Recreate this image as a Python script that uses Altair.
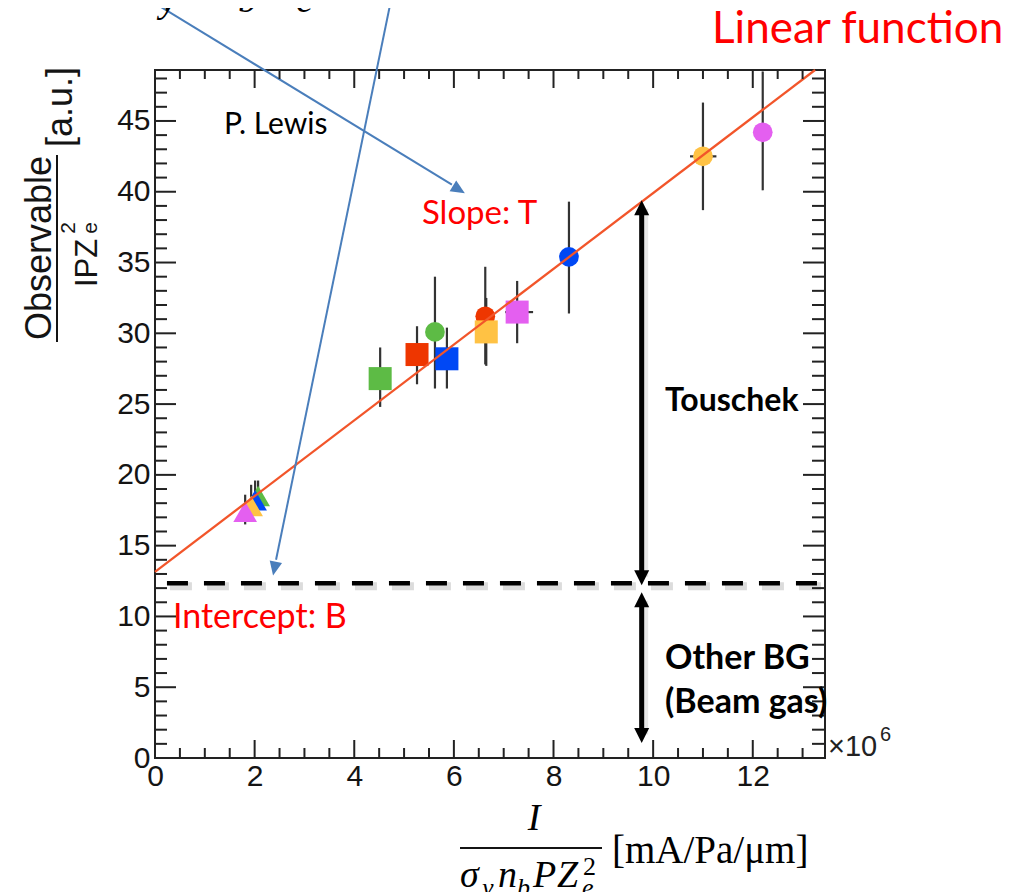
import altair as alt
import pandas as pd

# ---------------- geometry of the plot frame ----------------
W, H = 670, 688                      # plot area (pixels)
PX0, PY0 = 155, 70                   # page position of the plot's top-left corner
X_DOMAIN = [0, 13.45]                # in units of 1e6
Y_DOMAIN = [0, 48.6]

# ---------------- data ----------------
color_names = ["green", "red", "blue", "yellow", "magenta"]
color_hex = ["#5dbb45", "#ee3600", "#0048f5", "#ffc244", "#e45ff0"]

# circles
circ_x = [5.62, 6.63, 8.31, 11.0, 12.2]
circ_y = [30.1, 31.2, 35.4, 42.5, 44.2]
circ_lo = [26.1, 27.8, 31.4, 38.7, 40.1]
circ_hi = [34.0, 34.7, 39.3, 46.3, 48.5]
circ_c = ["green", "red", "blue", "yellow", "magenta"]

# squares
sq_x = [4.52, 5.26, 5.86, 6.65, 7.27]
sq_y = [26.8, 28.5, 28.2, 30.1, 31.5]
sq_lo = [24.8, 26.4, 26.1, 27.7, 29.3]
sq_hi = [29.0, 30.5, 30.4, 32.5, 33.7]
sq_c = ["green", "red", "blue", "yellow", "magenta"]

# triangles
tri_x = [2.07, 2.01, 1.93, 1.81]
tri_y = [18.5, 18.2, 17.8, 17.4]
tri_lo = [17.6, 17.2, 17.0, 16.5]
tri_hi = [19.6, 19.6, 19.3, 18.6]
tri_c = ["green", "blue", "yellow", "magenta"]

# horizontal error bars
hx_lo = [10.74, 7.03]
hx_hi = [11.27, 7.59]
hx_y = [42.5, 31.5]

# linear fit (end points)
fit_x = [0.0, 13.25]
fit_y = [13.15, 48.6]

# dashed intercept line
dash_x = [0.24, 13.4]
dash_y = 12.35

# annotation arrows (data units)
touschek_x = 9.77
touschek_tips = [39.4, 12.2]
otherbg_tips = [11.7, 1.06]
blue1_from = (-0.60, 54.6)
blue1_to = (5.96, 40.5)
blue1_tip = (6.22, 39.9)
blue2_from = (4.80, 54.6)
blue2_to = (2.43, 14.0)
blue2_tip = (2.37, 12.9)

# ticks
x_major = [0, 2, 4, 6, 8, 10, 12]
x_minor = [0.5, 1, 1.5, 2.5, 3, 3.5, 4.5, 5, 5.5, 6.5, 7, 7.5, 8.5, 9, 9.5,
           10.5, 11, 11.5, 12.5, 13]
y_major = [0, 5, 10, 15, 20, 25, 30, 35, 40, 45]
y_minor = [1, 2, 3, 4, 6, 7, 8, 9, 11, 12, 13, 14, 16, 17, 18, 19, 21, 22, 23, 24,
           26, 27, 28, 29, 31, 32, 33, 34, 36, 37, 38, 39, 41, 42, 43, 44, 46, 47, 48]

# ---------------- helpers ----------------
xs = alt.Scale(domain=X_DOMAIN, nice=False, zero=False)
ys = alt.Scale(domain=Y_DOMAIN, nice=False, zero=False)
x_axis = alt.Axis(values=x_major, title=None, ticks=False, domain=False, grid=False,
                  labelFont="Liberation Sans", labelFontSize=30, labelColor="#141414",
                  labelPadding=3, labelOverlap=False, labelFlush=False)
y_axis = alt.Axis(values=y_major, title=None, ticks=False, domain=False, grid=False,
                  labelFont="Liberation Sans", labelFontSize=30, labelColor="#141414",
                  labelPadding=5, labelOverlap=False, labelFlush=False)


def X(f):
    return alt.X(f, type="quantitative", scale=xs, axis=x_axis)


def Y(f):
    return alt.Y(f, type="quantitative", scale=ys, axis=y_axis)


cscale = alt.Scale(domain=color_names, range=color_hex)
layers = []

# error bars
eb = pd.DataFrame({"x": circ_x + sq_x + tri_x,
                   "lo": circ_lo + sq_lo + tri_lo,
                   "hi": circ_hi + sq_hi + tri_hi})
layers.append(alt.Chart(eb).mark_rule(color="#333333", strokeWidth=2.2)
              .encode(x=X("x"), y=Y("lo"), y2="hi"))
hb = pd.DataFrame({"lo": hx_lo, "hi": hx_hi, "y": hx_y})
layers.append(alt.Chart(hb).mark_rule(color="#333333", strokeWidth=2.2)
              .encode(x=X("lo"), x2="hi", y=Y("y")))


def markers(xv, yv, cv, shape, size):
    d = pd.DataFrame({"x": xv, "y": yv, "c": cv})
    return (alt.Chart(d)
            .mark_point(shape=shape, filled=True, size=size, opacity=1, strokeWidth=0)
            .encode(x=X("x"), y=Y("y"),
                    color=alt.Color("c:N", scale=cscale, legend=None)))


layers.append(markers(circ_x, circ_y, circ_c, "circle", 390))
layers.append(markers(sq_x, sq_y, sq_c, "square", 530))
layers.append(markers(tri_x, tri_y, tri_c, "triangle-up", 560))

# fit line
layers.append(alt.Chart(pd.DataFrame({"x": fit_x, "y": fit_y}))
              .mark_line(color="#f2552a", strokeWidth=2.3)
              .encode(x=X("x"), y=Y("y")))

# dashed line with its shadow
shadow = pd.DataFrame({"x": [dash_x[0] + 0.06], "x2": [dash_x[1] + 0.06], "y": [dash_y - 0.22]})
layers.append(alt.Chart(shadow).mark_rule(color="#9a9a9a", opacity=0.35, strokeWidth=8,
                                          strokeDash=[22, 15])
              .encode(x=X("x"), x2="x2", y=Y("y")))
dl = pd.DataFrame({"x": [dash_x[0]], "x2": [dash_x[1]], "y": [dash_y]})
layers.append(alt.Chart(dl).mark_rule(color="black", strokeWidth=4.5, strokeDash=[21, 16])
              .encode(x=X("x"), x2="x2", y=Y("y")))

# black double arrows (shaft + heads)
shafts = pd.DataFrame({"x": [touschek_x, touschek_x],
                       "lo": [touschek_tips[1] + 0.6, otherbg_tips[1] + 0.6],
                       "hi": [touschek_tips[0] - 0.6, otherbg_tips[0] - 0.6]})
layers.append(alt.Chart(shafts.assign(x=shafts.x + 0.05))
              .mark_rule(color="#888888", opacity=0.2, strokeWidth=8)
              .encode(x=X("x"), y=Y("lo"), y2="hi"))
layers.append(alt.Chart(shafts).mark_rule(color="black", strokeWidth=5)
              .encode(x=X("x"), y=Y("lo"), y2="hi"))

HEAD = "M0,0 L0.5,1 L-0.5,1 Z"
BHEAD = "M0,0 L0.45,1 L-0.45,1 Z"
up_heads = pd.DataFrame({"x": [touschek_x, touschek_x], "y": [touschek_tips[0], otherbg_tips[0]]})
dn_heads = pd.DataFrame({"x": [touschek_x, touschek_x], "y": [touschek_tips[1], otherbg_tips[1]]})
layers.append(alt.Chart(up_heads).mark_point(shape=HEAD, size=900, filled=True, opacity=1,
                                             color="black", strokeWidth=0, angle=0)
              .encode(x=X("x"), y=Y("y")))
layers.append(alt.Chart(dn_heads).mark_point(shape=HEAD, size=900, filled=True, opacity=1,
                                             color="black", strokeWidth=0, angle=180)
              .encode(x=X("x"), y=Y("y")))

# blue arrows
BLUE = "#4a7ebb"
bl = pd.DataFrame({"x": [blue1_from[0], blue2_from[0]], "y": [blue1_from[1], blue2_from[1]],
                   "x2": [blue1_to[0], blue2_to[0]], "y2": [blue1_to[1], blue2_to[1]]})
layers.append(alt.Chart(bl).mark_rule(color=BLUE, strokeWidth=2)
              .encode(x=X("x"), y=Y("y"), x2="x2", y2="y2"))
for tip, ang in [(blue1_tip, 121.5), (blue2_tip, 191.6)]:
    layers.append(alt.Chart(pd.DataFrame({"x": [tip[0]], "y": [tip[1]]}))
                  .mark_point(shape=BHEAD, size=784, filled=True, opacity=1, color=BLUE,
                              strokeWidth=0, angle=ang)
                  .encode(x=X("x"), y=Y("y")))

# ticks (ROOT style, inward on all four sides)
def tick_layer(vals, axis, side, length):
    d = pd.DataFrame({"v": vals})
    m = alt.Chart(d).mark_rule(color="#222222", strokeWidth=2)
    if axis == "x":
        if side == "bottom":
            return m.encode(x=X("v"), y=alt.value(H), y2=alt.value(H - length))
        return m.encode(x=X("v"), y=alt.value(0), y2=alt.value(length))
    if side == "left":
        return m.encode(y=Y("v"), x=alt.value(0), x2=alt.value(length))
    return m.encode(y=Y("v"), x=alt.value(W), x2=alt.value(W - length))


layers += [tick_layer(x_major, "x", "bottom", 18), tick_layer(x_minor, "x", "bottom", 10),
           tick_layer(x_major, "x", "top", 18), tick_layer(x_minor, "x", "top", 9),
           tick_layer(y_major, "y", "left", 21), tick_layer(y_minor, "y", "left", 12),
           tick_layer(y_major, "y", "right", 22), tick_layer(y_minor, "y", "right", 13)]

# ---------------- text annotations (page pixel positions) ----------------
SANS = "Lato"
SERIF = "Liberation Serif"
HELV = "Liberation Sans"
texts = [
    # text, page x, page y, size, font, color, weight, style, angle, align
    ("Linear function", 712, 43, 44, SANS, "#ff0000", "normal", "normal", 0, "left"),
    ("P. Lewis", 224, 134, 30, SANS, "black", "normal", "normal", 0, "left"),
    ("Slope: T", 422, 224, 33, SANS, "#ff0000", "normal", "normal", 0, "left"),
    ("Touschek", 665, 411, 32, SANS, "black", "bold", "normal", 0, "left"),
    ("Intercept: B", 173, 628, 34, SANS, "#ff0000", "normal", "normal", 0, "left"),
    ("Other BG", 665, 669, 34, SANS, "black", "bold", "normal", 0, "left"),
    ("(Beam gas)", 665, 713, 34, SANS, "black", "bold", "normal", 0, "left"),
    ("\u00d710", 828, 756, 29, HELV, "#222222", "normal", "normal", 0, "left"),
    ("6", 880, 741, 20, HELV, "#222222", "normal", "normal", 0, "left"),
    # y title (rotated)
    ("Observable", 51, 248, 36, HELV, "#141414", "normal", "normal", 270, "center"),
    ("[a.u.]", 72, 107, 36, HELV, "#141414", "normal", "normal", 270, "center"),
    ("IPZ", 97, 263, 31, HELV, "#141414", "normal", "normal", 270, "center"),
    ("2", 75, 228, 21, HELV, "#141414", "normal", "normal", 270, "center"),
    ("e", 97, 228, 21, HELV, "#141414", "normal", "normal", 270, "center"),
    # x title
    ("I", 534, 830, 38, SERIF, "black", "normal", "italic", 0, "center"),
    ("\u03c3", 460, 887, 38, SERIF, "black", "normal", "italic", 0, "left"),
    ("y", 482, 896, 26, SERIF, "black", "normal", "italic", 0, "left"),
    ("n", 498, 887, 38, SERIF, "black", "normal", "italic", 0, "left"),
    ("b", 517, 896, 26, SERIF, "black", "normal", "italic", 0, "left"),
    ("P", 533, 887, 38, SERIF, "black", "normal", "italic", 0, "left"),
    ("Z", 557, 887, 38, SERIF, "black", "normal", "italic", 0, "left"),
    ("e", 582, 896, 26, SERIF, "black", "normal", "italic", 0, "left"),
    ("2", 583, 875, 26, SERIF, "black", "normal", "normal", 0, "left"),
    ("[mA/Pa/\u03bcm]", 612, 863, 39, SERIF, "black", "normal", "normal", 0, "left"),
    # cut-off formula fragment at the very top
    ("\u03c3", 128, 2, 56, SERIF, "black", "normal", "italic", 0, "left"),
    ("y", 160, 12, 38, SERIF, "black", "normal", "italic", 0, "left"),
    ("n", 190, 2, 56, SERIF, "black", "normal", "italic", 0, "left"),
    ("b", 238, 12, 38, SERIF, "black", "normal", "italic", 0, "left"),
    ("P", 255, 2, 56, SERIF, "black", "normal", "italic", 0, "left"),
    ("Z", 272, 2, 56, SERIF, "black", "normal", "italic", 0, "left"),
    ("e", 296, 12, 38, SERIF, "black", "normal", "italic", 0, "left"),
]
for (s, px, py, size, font, col, wt, st, ang, al) in texts:
    layers.append(alt.Chart(pd.DataFrame({"t": [s]}))
                  .mark_text(font=font, fontSize=size, color=col, fontWeight=wt,
                             fontStyle=st, angle=ang, align=al, baseline="alphabetic")
                  .encode(x=alt.value(px - PX0), y=alt.value(py - PY0), text="t:N"))

# fraction bars of the axis titles
bars = [(57, 155, 57, 342), (460, 848, 602, 848)]
for (xa, ya, xb, yb) in bars:
    layers.append(alt.Chart(pd.DataFrame({"t": [0]})).mark_rule(color="#141414", strokeWidth=2)
                  .encode(x=alt.value(xa - PX0), x2=alt.value(xb - PX0),
                          y=alt.value(ya - PY0), y2=alt.value(yb - PY0)))

chart = (alt.layer(*layers)
         .properties(width=W, height=H, autosize=alt.AutoSizeParams(type="none"),
                     padding={"left": 147, "top": 62, "right": 194, "bottom": 134},
                     background="white")
         .configure_view(stroke="#222222", strokeWidth=2))

chart.save("out.html", embed_options={"renderer": "svg", "actions": False})
